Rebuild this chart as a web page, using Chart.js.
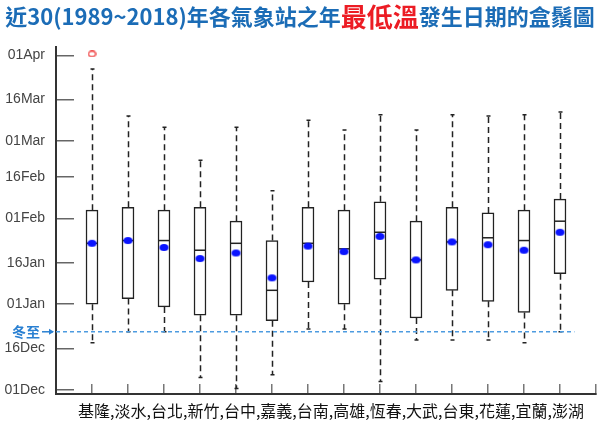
<!DOCTYPE html>
<html lang="zh-Hant">
<head>
<meta charset="utf-8">
<title>最低溫發生日期盒鬚圖</title>
<style>
  html, body { margin: 0; padding: 0; background: #fff; }
  #wrap { width: 601px; height: 422px; }
</style>
</head>
<body>
<div id="wrap"><canvas id="boxChart" width="601" height="422"></canvas></div>

<script src="https://cdn.jsdelivr.net/npm/chart.js@4.4.0/dist/chart.umd.min.js"></script>
<script>
// 測站
const stations = ['基隆','淡水','台北','新竹','台中','嘉義','台南','高雄','恆春','大武','台東','花蓮','宜蘭','澎湖'];

// 日期一律換算成「12月1日起算的天數」
const whiskerLow  = [17, 21, 21, 4.5, 0.5, 5.5, 22, 22, 3, 18, 18, 18, 17, 21];
const boxLow      = [31, 33, 30, 27, 27, 25, 39, 31, 40, 26, 36, 32, 28, 42];
const medians     = [53, 54, 54, 50.5, 53, 36, 53, 51, 57, 47, 53.5, 55, 54, 61];
const boxHigh     = [65, 66, 65, 66, 61, 54, 66, 65, 68, 61, 66, 64, 65, 69];
const whiskerHigh = [116, 99, 95, 83, 95, 72, 97.5, 94, 99.5, 94, 99.5, 99, 99.5, 100.5];
const means       = [53, 54, 51.5, 47.5, 49.5, 40.5, 52, 50, 55.5, 47, 53.5, 52.5, 50.5, 57];
const outlierStation = [1];     // 基隆
const outlierDay     = [121.5];

const tickDays   = [0, 15, 31, 46, 62, 77, 90, 105, 121];
const tickLabels = ['01Dec','16Dec','01Jan','16Jan','01Feb','16Feb','01Mar','16Mar','01Apr'];
const solsticeDay = 21;  // 冬至 12/22

const CJK = '"Noto Sans CJK TC", "Noto Sans", sans-serif';

// 點的樣式（略扁的橢圓）
function ellipseIcon(w, h, fill, stroke) {
  const c = document.createElement('canvas');
  c.width = w + 2; c.height = h + 2;
  const g = c.getContext('2d');
  g.beginPath();
  g.ellipse(c.width / 2, c.height / 2, w / 2, h / 2, 0, 0, Math.PI * 2);
  if (fill) { g.fillStyle = fill; g.fill(); }
  if (stroke) { g.strokeStyle = stroke; g.lineWidth = 1.4; g.stroke(); }
  return c;
}
const meanDot = ellipseIcon(9, 7, '#0a14ff', null);
const outlierRing = ellipseIcon(7, 5.5, null, '#f04848');

// 鬚線、中位數與文字
const boxParts = {
  id: 'boxParts',
  beforeDatasetsDraw(chart) {
    const { ctx, scales: { x, y } } = chart;
    ctx.save();
    ctx.strokeStyle = '#222';
    ctx.lineWidth = 1.5;
    stations.forEach((s, i) => {
      const px = Math.round(x.getPixelForValue(i + 1)) + 0.5;
      const yTop = y.getPixelForValue(whiskerHigh[i]);
      const yBot = y.getPixelForValue(whiskerLow[i]);
      ctx.setLineDash([6, 4]);
      ctx.beginPath();
      ctx.moveTo(px, y.getPixelForValue(boxHigh[i]));
      ctx.lineTo(px, yTop);
      ctx.moveTo(px, y.getPixelForValue(boxLow[i]));
      ctx.lineTo(px, yBot);
      ctx.stroke();
      ctx.setLineDash([]);
      ctx.beginPath();
      ctx.moveTo(px - 2, yTop); ctx.lineTo(px + 2, yTop);
      ctx.moveTo(px - 2, yBot); ctx.lineTo(px + 2, yBot);
      ctx.stroke();
    });
    ctx.restore();
  },
  afterDatasetDraw(chart, args) {
    if (args.meta.type !== 'bar') return;
    const { ctx, scales: { x, y } } = chart;
    ctx.save();
    ctx.strokeStyle = '#222';
    ctx.lineWidth = 1.5;
    stations.forEach((s, i) => {
      const px = x.getPixelForValue(i + 1);
      const py = y.getPixelForValue(medians[i]);
      ctx.beginPath();
      ctx.moveTo(px - 6, py);
      ctx.lineTo(px + 6, py);
      ctx.stroke();
    });
    ctx.restore();
  },
  afterDraw(chart) {
    const { ctx, chartArea, scales: { y } } = chart;
    ctx.save();
    ctx.textBaseline = 'middle';

    // 標題
    const parts = [
      { t: '近30(1989~2018)年各氣象站之年', f: 'bold 22px ' + CJK, c: '#1b6cb6' },
      { t: '最低溫', f: 'bold 26px ' + CJK, c: '#ec1c24' },
      { t: '發生日期的盒鬚圖', f: 'bold 22px ' + CJK, c: '#1b6cb6' }
    ];
    let total = 0;
    parts.forEach(p => { ctx.font = p.f; p.w = ctx.measureText(p.t).width; total += p.w; });
    let tx = 300 - total / 2;
    parts.forEach(p => {
      ctx.font = p.f;
      ctx.fillStyle = p.c;
      ctx.textAlign = 'left';
      ctx.fillText(p.t, tx, 17);
      tx += p.w;
    });

    // 冬至標示
    const sy = y.getPixelForValue(solsticeDay);
    ctx.font = 'bold 14px ' + CJK;
    ctx.fillStyle = '#2a80d2';
    ctx.fillText('冬至', 12, sy);
    ctx.strokeStyle = '#2a80d2';
    ctx.lineWidth = 1.5;
    ctx.beginPath();
    ctx.moveTo(42, sy); ctx.lineTo(chartArea.left - 3, sy);
    ctx.stroke();
    ctx.beginPath();
    ctx.moveTo(chartArea.left - 2, sy);
    ctx.lineTo(chartArea.left - 7, sy - 3);
    ctx.lineTo(chartArea.left - 7, sy + 3);
    ctx.closePath();
    ctx.fillStyle = '#2a80d2';
    ctx.fill();

    // 測站名稱
    ctx.font = '16px ' + CJK;
    ctx.fillStyle = '#111';
    ctx.textAlign = 'center';
    ctx.fillText(stations.join(','), 331, 411);
    ctx.restore();
  }
};

const ctx = document.getElementById('boxChart');
new Chart(ctx, {
  type: 'bar',
  data: {
    datasets: [
      {
        type: 'scatter',
        data: means.map((m, i) => ({ x: i + 1, y: m })),
        pointStyle: meanDot,
        order: 0
      },
      {
        type: 'scatter',
        data: outlierStation.map((s, i) => ({ x: s, y: outlierDay[i] })),
        pointStyle: outlierRing,
        order: 0
      },
      {
        type: 'line',
        data: [{ x: 0, y: solsticeDay }, { x: 14.4, y: solsticeDay }],
        borderColor: '#4d9be0',
        borderWidth: 1.5,
        borderDash: [4, 3],
        pointRadius: 0,
        order: 1
      },
      {
        type: 'bar',
        data: stations.map((s, i) => ({ x: i + 1, y: [boxLow[i], boxHigh[i]] })),
        backgroundColor: '#ffffff',
        borderColor: '#222',
        borderWidth: 1.5,
        borderSkipped: false,
        barThickness: 12,
        order: 2
      }
    ]
  },
  options: {
    responsive: false,
    animation: false,
    devicePixelRatio: 1,
    layout: { padding: { top: 47, right: 2, left: 0, bottom: 0 } },
    plugins: {
      legend: { display: false },
      tooltip: { enabled: false }
    },
    scales: {
      x: {
        type: 'linear',
        min: 0,
        max: 15,
        offset: false,
        afterBuildTicks: s => {
          s.ticks = stations.map((_, i) => ({ value: i + 1 })).concat([{ value: 15 }]);
        },
        ticks: { display: false },
        grid: { offset: false, drawOnChartArea: false, tickLength: -10, color: '#777', lineWidth: 1.5 },
        border: { color: '#333', width: 2 },
        afterFit: s => { s.height = 28; }
      },
      y: {
        min: -1.5,
        max: 124,
        afterBuildTicks: s => { s.ticks = tickDays.map(v => ({ value: v })); },
        ticks: {
          callback: (v, i) => tickLabels[i],
          padding: 29,
          color: '#444',
          font: { family: '"Liberation Sans", Arial, sans-serif', size: 14 }
        },
        grid: { drawOnChartArea: false, tickLength: -18, color: '#666', lineWidth: 1.5 },
        border: { color: '#333', width: 2 },
        // 刻度往內畫，標籤的上下留白不需要
        afterFit: s => { s.width = 56; s.paddingTop = 0; s.paddingBottom = 0; }
      }
    }
  },
  plugins: [boxParts]
});
</script>
</body>
</html>
